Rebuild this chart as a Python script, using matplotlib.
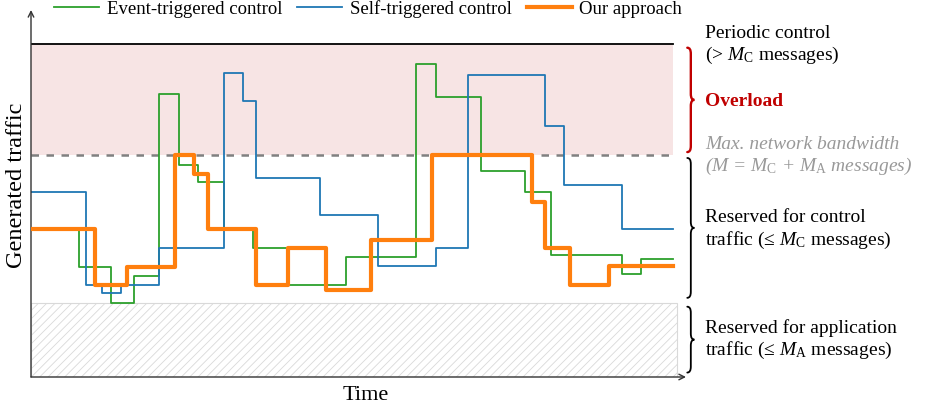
import matplotlib
matplotlib.use("Agg")
import matplotlib.pyplot as plt
from matplotlib.patches import Rectangle, PathPatch
from matplotlib.path import Path

plt.rcParams["font.family"] = ["Liberation Serif", "DejaVu Serif"]
plt.rcParams["mathtext.fontset"] = "custom"
plt.rcParams["mathtext.rm"] = "Liberation Serif"
plt.rcParams["mathtext.it"] = "Liberation Serif:italic"
plt.rcParams["hatch.color"] = "#e4e4e4"
plt.rcParams["hatch.linewidth"] = 0.6

# time (0..100) and traffic (messages), step changes
event_t = [0, 7.5, 12.5, 16, 20, 23, 26, 30, 34.5, 40, 49, 60, 63, 70, 77, 81, 92, 95, 100]
event_v = [20, 14.9, 10.0, 13.7, 38.3, 28.6, 26.4, 20.0, 17.5, 12.5, 16.2, 42.3, 37.8, 27.9, 25.0, 16.5, 13.9, 16.0, 16.0]

self_t = [0, 8.5, 11, 14, 20, 30, 33, 35, 45, 54, 63, 68, 80, 83, 92, 100]
self_v = [25, 12.4, 11.4, 12.4, 17.5, 41.1, 37.3, 26.9, 21.9, 15.0, 17.5, 40.8, 33.9, 25.9, 20.0, 20.0]

ours_t = [0, 10, 15, 22.4, 25.4, 27.5, 35.1, 40, 46, 53, 62.5, 78, 80, 84, 90, 100]
ours_v = [20, 12.5, 14.9, 30, 27.5, 20, 12.5, 17.5, 11.7, 18.5, 30, 23.7, 17.5, 12.5, 15.0, 15.0]

M_A = 10       # reserved for application traffic
M = 30         # max network bandwidth
periodic = 45  # periodic control load
t_end = 100


def brace(ax, x, y0, y1, w, r, color, lw):
    ym = (y0 + y1) / 2
    verts = [(x, y1), (x + w / 2, y1), (x + w / 2, y1 - r),
             (x + w / 2, ym + r), (x + w / 2, ym), (x + w, ym),
             (x + w / 2, ym), (x + w / 2, ym - r),
             (x + w / 2, y0 + r), (x + w / 2, y0), (x, y0)]
    codes = [Path.MOVETO, Path.CURVE3, Path.CURVE3,
             Path.LINETO, Path.CURVE3, Path.CURVE3,
             Path.CURVE3, Path.CURVE3,
             Path.LINETO, Path.CURVE3, Path.CURVE3]
    ax.add_patch(PathPatch(Path(verts, codes), fill=False, edgecolor=color,
                           lw=lw, clip_on=False, capstyle="round"))


fig = plt.figure(figsize=(9.31, 4.08), dpi=100)
ax = fig.add_axes([31 / 931, 31 / 408, 655 / 931, 367 / 408])
ax.set_xlim(0, 102)
ax.set_ylim(0, 49.6)
for s in ax.spines.values():
    s.set_visible(False)
ax.set_xticks([])
ax.set_yticks([])

# regions
ax.add_patch(Rectangle((0, M), t_end, periodic - M, facecolor="#f7e4e4", edgecolor="none", zorder=0))
ax.add_patch(Rectangle((0, 0), t_end + 0.6, M_A, facecolor="white", edgecolor="#d9d9d9",
                       hatch="////", lw=0.8, zorder=0))
ax.plot([0, t_end], [periodic, periodic], color="black", lw=1.3, zorder=2)
ax.plot([0, t_end], [M, M], color="#808080", lw=1.8, ls=(0, (3, 3)), zorder=2)

ax.plot(event_t, event_v, drawstyle="steps-post", color="#2ca02c", lw=1.3, zorder=3,
        label="Event-triggered control")
ax.plot(self_t, self_v, drawstyle="steps-post", color="#1f77b4", lw=1.3, zorder=3,
        label="Self-triggered control")
ax.plot(ours_t, ours_v, drawstyle="steps-post", color="#ff7f0e", lw=3.0, zorder=4,
        label="Our approach")

# axes arrows
ax.annotate("", xy=(102, 0), xytext=(0, 0), annotation_clip=False,
            arrowprops=dict(arrowstyle="->", color="#333333", lw=1.0, shrinkA=0, shrinkB=0))
ax.annotate("", xy=(0, 49.6), xytext=(0, 0), annotation_clip=False,
            arrowprops=dict(arrowstyle="->", color="#333333", lw=1.0, shrinkA=0, shrinkB=0))

ax.set_xlabel("Time", fontsize=16)
ax.xaxis.set_label_coords((366 - 31) / 655, -18 / 367, transform=ax.transAxes)
ax.xaxis.label.set_va("center")
ax.set_ylabel("Generated traffic", fontsize=17.5)
ax.yaxis.set_label_coords(-14 / 655, (377 - 185) / 367, transform=ax.transAxes)
ax.yaxis.label.set_va("center")

# braces and annotations on the right
brace(ax, 102.2, 30.4, 44.5, 1.1, 0.8, "#c00000", 1.7)
brace(ax, 102.2, 10.7, 29.6, 1.1, 0.8, "black", 1.3)
brace(ax, 102.2, 0.6, 9.5, 1.1, 0.8, "black", 1.3)

tx = 105.0
fs = 14
ax.text(tx, 46.4, "Periodic control", fontsize=fs, va="center", clip_on=False)
ax.text(tx, 43.4, r"(> $M_\mathrm{C}$ messages)", fontsize=fs, va="center", clip_on=False)
ax.text(tx, 37.3, "Overload", fontsize=fs, va="center", color="#c00000", fontweight="bold",
        clip_on=False)
ax.text(tx, 31.4, "Max. network bandwidth", fontsize=fs, va="center", color="#999999",
        style="italic", clip_on=False)
ax.text(tx, 28.4, r"($M$ = $M_\mathrm{C}$ + $M_\mathrm{A}$ messages)", fontsize=fs, va="center",
        color="#999999", style="italic", clip_on=False)
ax.text(tx, 21.6, "Reserved for control", fontsize=fs, va="center", clip_on=False)
ax.text(tx, 18.5, r"traffic (≤ $M_\mathrm{C}$ messages)", fontsize=fs, va="center", clip_on=False)
ax.text(tx, 6.6, "Reserved for application", fontsize=fs, va="center", clip_on=False)
ax.text(tx, 3.6, r"traffic (≤ $M_\mathrm{A}$ messages)", fontsize=fs, va="center", clip_on=False)

fig.legend(loc="center", bbox_to_anchor=(368 / 931, 1 - 9 / 408), ncol=3, frameon=False,
           fontsize=13.5, handlelength=2.4, columnspacing=0.8, handletextpad=0.4,
           borderpad=0, borderaxespad=0)

fig.savefig("out.png", dpi=100)
